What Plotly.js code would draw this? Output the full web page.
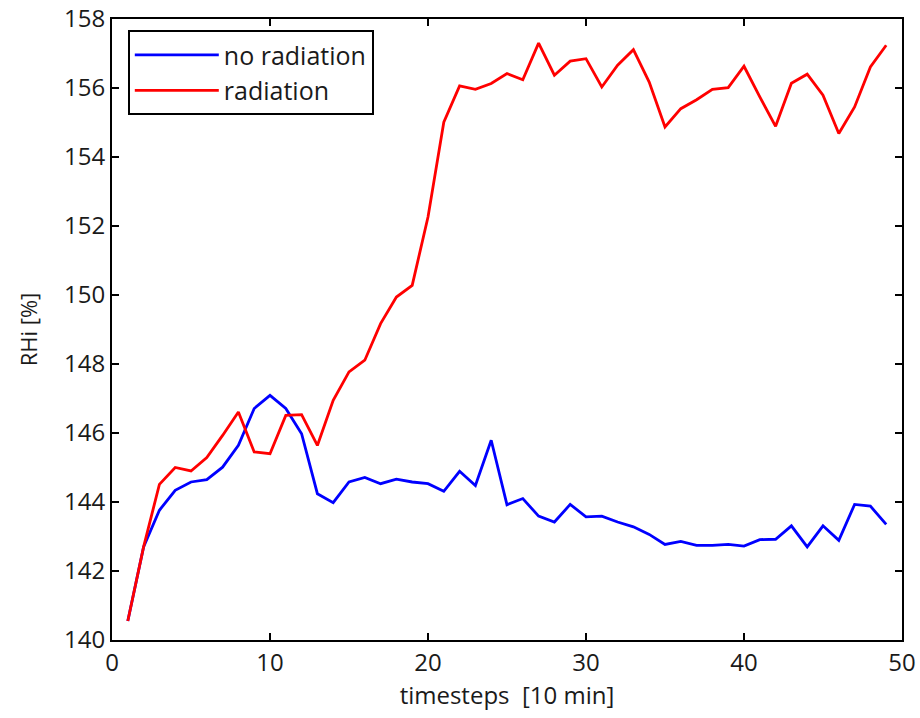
<!DOCTYPE html>
<html>
<head>
<meta charset="utf-8">
<script src="https://cdn.plot.ly/plotly-3.0.1.min.js"></script>
<style>html,body{margin:0;padding:0;background:#fff;}#chart{width:920px;height:718px;}</style>
</head>
<body>
<div id="chart"></div>
<script>
const timesteps = [1,2,3,4,5,6,7,8,9,10,11,12,13,14,15,16,17,18,19,20,21,22,23,24,25,26,27,28,29,30,31,32,33,34,35,36,37,38,39,40,41,42,43,44,45,46,47,48,49];
const noRadiation = [140.55,142.7,143.76,144.34,144.58,144.65,145.01,145.64,146.71,147.09,146.71,145.98,144.24,143.98,144.58,144.71,144.53,144.66,144.58,144.53,144.31,144.89,144.48,145.79,143.92,144.10,143.59,143.42,143.93,143.57,143.59,143.42,143.28,143.06,142.77,142.86,142.74,142.74,142.77,142.72,142.91,142.92,143.31,142.70,143.31,142.89,143.93,143.88,143.35];
const radiation = [140.55,142.7,144.51,145.0,144.9,145.29,145.93,146.61,145.45,145.40,146.51,146.53,145.64,146.95,147.77,148.11,149.17,149.94,150.28,152.26,155.01,156.06,155.96,156.13,156.42,156.24,157.30,156.37,156.78,156.85,156.03,156.66,157.11,156.17,154.87,155.40,155.66,155.96,156.01,156.63,155.74,154.89,156.14,156.40,155.79,154.68,155.45,156.61,157.24];
const xTicks = [0,10,20,30,40,50];
const yTicks = [140,142,144,146,148,150,152,154,156,158];
const seriesNames = ['no radiation','radiation'];

const FONT = 'Open Sans, sans-serif';
const traces = [
  {x: timesteps, y: noRadiation, name: seriesNames[0], type: 'scatter', mode: 'lines', line: {color: '#0000ff', width: 2.8}},
  {x: timesteps, y: radiation, name: seriesNames[1], type: 'scatter', mode: 'lines', line: {color: '#ff0000', width: 2.8}}
];
const axisCommon = {
  showgrid: false, zeroline: false, showline: true, linecolor: '#000', linewidth: 2,
  mirror: 'ticks', ticks: 'inside', ticklen: 7, tickwidth: 2, tickcolor: '#000',
  tickfont: {family: FONT, size: 24, color: '#1a1a1a'}
};
const layout = {
  width: 920, height: 718,
  margin: {l: 112, r: 18, t: 19, b: 78},
  paper_bgcolor: '#fff', plot_bgcolor: '#fff',
  font: {family: FONT, color: '#1a1a1a'},
  showlegend: true,
  legend: {x: 0.02, y: 0.982, xanchor: 'left', yanchor: 'top', bgcolor: '#fff', bordercolor: '#000', borderwidth: 2,
           font: {family: FONT, size: 25, color: '#1a1a1a'}, tracegroupgap: 0, itemwidth: 84},
  xaxis: Object.assign({}, axisCommon, {range: [0, 50], tickvals: xTicks, ticktext: xTicks.map(String),
           title: {text: 'timesteps  [10 min]', font: {family: FONT, size: 24, color: '#1a1a1a'}, standoff: 0}}),
  yaxis: Object.assign({}, axisCommon, {range: [140, 158], tickvals: yTicks, ticktext: yTicks.map(String),
           title: {text: 'RHi [%]', font: {family: FONT, size: 22, color: '#1a1a1a'}, standoff: 20}})
};
Plotly.newPlot('chart', traces, layout, {displayModeBar: false, staticPlot: true});
</script>
</body>
</html>
